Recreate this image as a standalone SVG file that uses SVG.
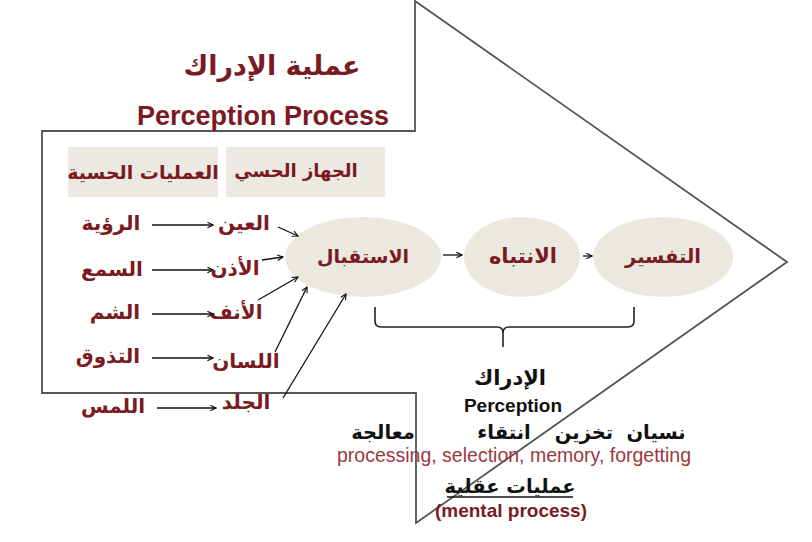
<svg xmlns="http://www.w3.org/2000/svg" width="812" height="542" viewBox="0 0 812 542">
<defs>
<marker id="ah" viewBox="0 0 10 10" refX="9" refY="5" markerWidth="7" markerHeight="7" orient="auto" markerUnits="userSpaceOnUse">
<path d="M1,1 L9,5 L1,9" fill="none" stroke="#111" stroke-width="1.6"/>
</marker>
<style>
.ar{font-family:"DejaVu Sans",sans-serif;font-weight:bold;text-anchor:middle;dominant-baseline:central}
.red{fill:#7a1a22}
.blk{fill:#111}
.en{font-family:"Liberation Sans",Arial,sans-serif;text-anchor:middle}
.cn{stroke:#111;stroke-width:1.3;fill:none;marker-end:url(#ah)}
.ell{fill:#ebe8df}
.hdr{fill:#ebe9e2}
</style>
</defs>
<rect width="812" height="542" fill="#fff"/>
<g id="big-arrow">
<path d="M415,1 L787,262 L416,523 L416,393 L42,393 L42,131 L415,131 Z" fill="none" stroke="#555" stroke-width="1.8" stroke-linejoin="miter"/>
</g>
<g id="title">
<text class="ar red" x="272" y="65" font-size="27">عملية الإدراك</text>
<text class="en red" x="263" y="125" font-size="27" font-weight="bold">Perception Process</text>
</g>
<g id="header-senses">
<rect class="hdr" x="68" y="147" width="150" height="50"/>
<text class="ar red" x="143" y="172" font-size="19">العمليات الحسية</text>
</g>
<g id="header-organs">
<rect class="hdr" x="226" y="147" width="159" height="50"/>
<text class="ar red" x="296" y="170" font-size="18">الجهاز الحسي</text>
</g>
<g id="sense-sight"><text class="ar red" x="111" y="223" font-size="20">الرؤية</text></g>
<g id="sense-hearing"><text class="ar red" x="112" y="269" font-size="20">السمع</text></g>
<g id="sense-smell"><text class="ar red" x="115" y="312" font-size="20">الشم</text></g>
<g id="sense-taste"><text class="ar red" x="108" y="356" font-size="20">التذوق</text></g>
<g id="sense-touch"><text class="ar red" x="113" y="406" font-size="20">اللمس</text></g>
<g id="organ-eye"><text class="ar red" x="244" y="223" font-size="20">العين</text></g>
<g id="organ-ear"><text class="ar red" x="235" y="268" font-size="20">الأذن</text></g>
<g id="organ-nose"><text class="ar red" x="236" y="312" font-size="20">الأنف</text></g>
<g id="organ-tongue"><text class="ar red" x="246" y="361" font-size="20">اللسان</text></g>
<g id="organ-skin"><text class="ar red" x="246" y="402" font-size="20">الجلد</text></g>
<g id="reception">
<ellipse class="ell" cx="363" cy="257" rx="78" ry="40"/>
<text class="ar red" x="363" y="256" font-size="19">الاستقبال</text>
</g>
<g id="attention">
<ellipse class="ell" cx="522" cy="257" rx="58" ry="40"/>
<text class="ar red" x="523" y="256" font-size="21">الانتباه</text>
</g>
<g id="interpretation">
<ellipse class="ell" cx="663" cy="257" rx="70" ry="40"/>
<text class="ar red" x="663" y="256" font-size="19.5">التفسير</text>
</g>
<g id="connectors">
<line class="cn" x1="152" y1="225" x2="213" y2="225"/>
<line class="cn" x1="152" y1="270" x2="213" y2="270"/>
<line class="cn" x1="152" y1="314" x2="213" y2="314"/>
<line class="cn" x1="152" y1="358" x2="213" y2="358"/>
<line class="cn" x1="157" y1="408" x2="216" y2="408"/>
<line class="cn" x1="278" y1="227" x2="298" y2="236"/>
<line class="cn" x1="262" y1="260" x2="283" y2="257"/>
<line class="cn" x1="258" y1="300" x2="298" y2="277"/>
<line class="cn" x1="275" y1="352" x2="307" y2="287"/>
<line class="cn" x1="283" y1="398" x2="346" y2="294"/>
<line class="cn" x1="443" y1="255" x2="462" y2="255"/>
<line class="cn" x1="583" y1="256" x2="592" y2="256"/>
<path d="M375,307 L375,321 Q375,327 381,327 L497,327 Q503,327 503,333 L503,347 M503,333 Q503,327 509,327 L628,327 Q634,327 634,321 L634,307" fill="none" stroke="#222" stroke-width="1.6"/>
</g>
<g id="perception-label">
<text class="ar blk" x="510" y="378" font-size="21">الإدراك</text>
<text class="en blk" x="513" y="412" font-size="19" font-weight="bold">Perception</text>
<text class="ar blk" x="383" y="432" font-size="19.5">معالجة</text>
<text class="ar blk" x="504" y="432" font-size="19.5">انتقاء</text>
<text class="ar blk" x="584" y="432" font-size="19.5">تخزين</text>
<text class="ar blk" x="656" y="432" font-size="19.5">نسيان</text>
<text class="en" x="514" y="462" font-size="19.5" fill="#9a3a3e">processing, selection, memory, forgetting</text>
</g>
<g id="mental-label">
<text class="ar blk" x="510" y="486" font-size="19.5">عمليات عقلية</text>
<line x1="447" y1="497" x2="573" y2="497" stroke="#111" stroke-width="1.4"/>
<text class="en red" x="511" y="517" font-size="19" font-weight="bold">(mental process)</text>
</g>
</svg>
